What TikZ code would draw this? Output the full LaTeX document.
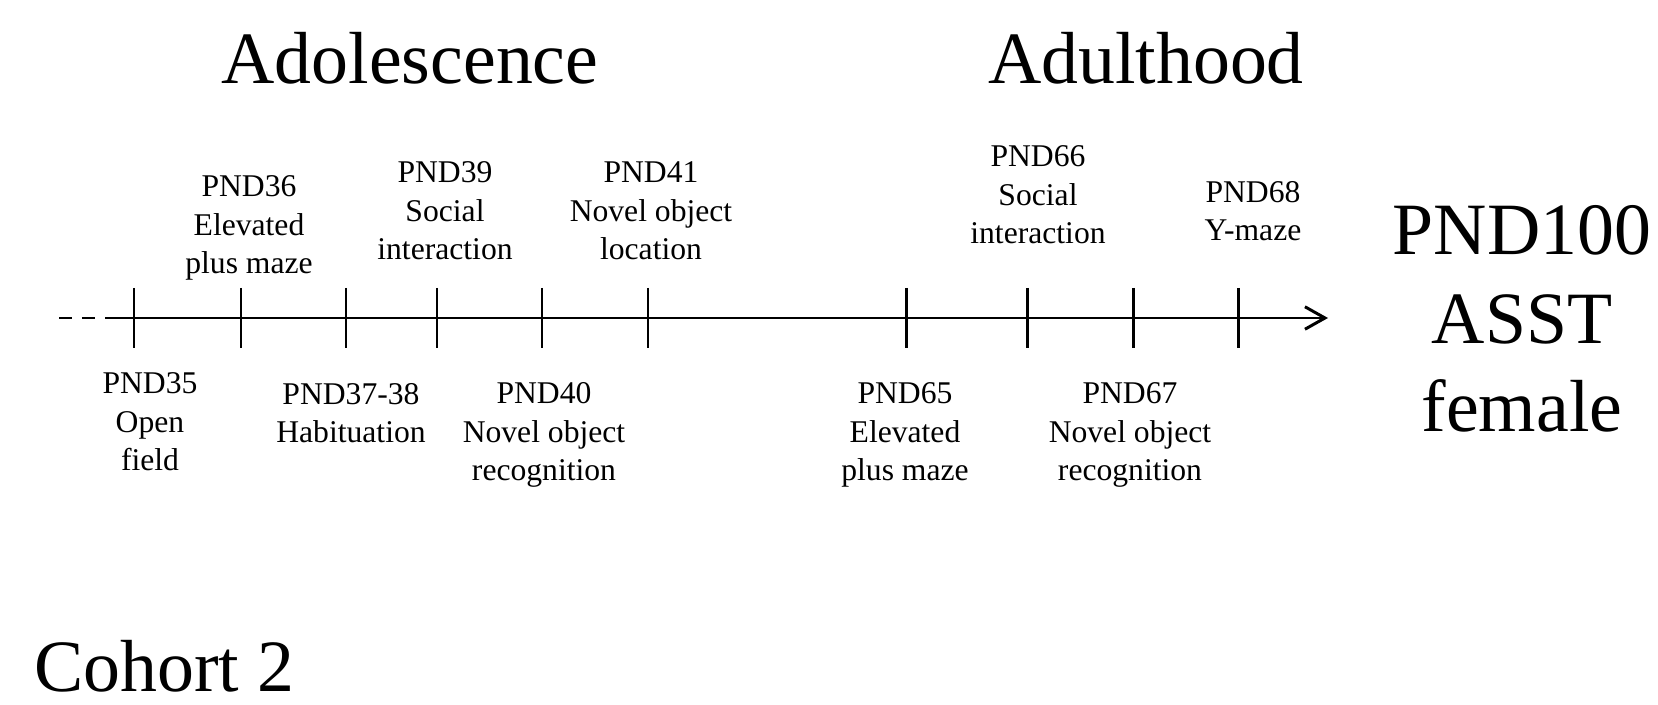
\documentclass[tikz,border=0pt]{standalone}
\usepackage{fontspec}
\setmainfont{Liberation Serif}
\usetikzlibrary{arrows.meta}

\begin{document}
\begin{tikzpicture}[
    x=0.02cm, y=-0.02cm,
    evlbl/.style    = {font=\fontsize{18}{22}\selectfont, align=center, anchor=base, inner sep=0pt},
    phaselbl/.style = {font=\fontsize{42}{50.5}\selectfont, align=center, anchor=base, inner sep=0pt},
    axisln/.style   = {line width=1.7pt, -{Straight Barb[length=0.4cm, width=0.45cm]}},
    dashln/.style   = {line width=1.7pt, dash pattern=on 0.26cm off 0.2cm},
    tickln/.style   = {line width=1.7pt}
  ]
  \useasboundingbox (0,0) rectangle (1658,705);

  % time axis
  \coordinate (dashL) at (59,318);
  \coordinate (dashR) at (95,318);
  \coordinate (axL) at (105,318);
  \coordinate (axR) at (1328,318);
  \draw[dashln] (dashL) -- (dashR);
  \draw[axisln] (axL) -- (axR);
  \foreach \x/\n in {134/35,241/36,346/37,437/39,542/40,648/41,906/65,1027/66,1133/67,1238/68}{
    \coordinate (tkT\n) at (\x,288);
    \coordinate (tkB\n) at (\x,348);
    \draw[tickln] (tkT\n) -- (tkB\n);
  }

  % phases (base = last line)
  \node[phaselbl] (adol)  at (410,84) {Adolescence};
  \node[phaselbl] (adult) at (1146,84) {Adulthood};
  \node[phaselbl] (asst)  at (1522,432) {PND100\\ASST\\female};
  \node[phaselbl, anchor=base west] (cohort) at (34,692) {Cohort 2};

  % tests above the axis
  \node[evlbl] (pnd36) at (249,274) {PND36\\Elevated\\plus maze};
  \node[evlbl] (pnd39) at (445,260) {PND39\\Social\\interaction};
  \node[evlbl] (pnd41) at (651,260) {PND41\\Novel object\\location};
  \node[evlbl] (pnd66) at (1038,244) {PND66\\Social\\interaction};
  \node[evlbl] (pnd68) at (1253,241) {PND68\\Y-maze};

  % tests below the axis
  \node[evlbl] (pnd35) at (150,471) {PND35\\Open\\field};
  \node[evlbl] (pnd37) at (351,443) {PND37-38\\Habituation};
  \node[evlbl] (pnd40) at (544,481) {PND40\\Novel object\\recognition};
  \node[evlbl] (pnd65) at (905,481) {PND65\\Elevated\\plus maze};
  \node[evlbl] (pnd67) at (1130,481) {PND67\\Novel object\\recognition};
\end{tikzpicture}
\end{document}
